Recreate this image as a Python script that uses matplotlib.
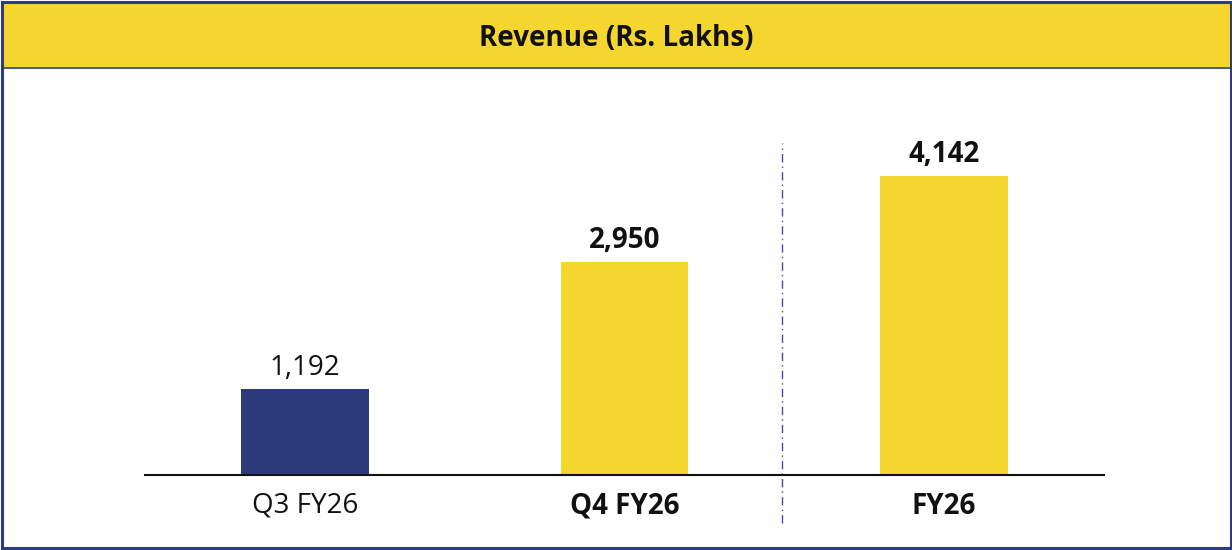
import matplotlib
matplotlib.use("Agg")
import matplotlib.pyplot as plt
from matplotlib.patches import Rectangle

categories = ["Q3 FY26", "Q4 FY26", "FY26"]
revenue = [1192, 2950, 4142]
value_labels = ["1,192", "2,950", "4,142"]
title = "Revenue (Rs. Lakhs)"

NAVY = "#2c3a7c"
YELLOW = "#f5d62f"
BORDER = "#2e3b80"

plt.rcParams["font.family"] = ["Open Sans", "DejaVu Sans"]

W, H = 1232, 550
fig = plt.figure(figsize=(W / 100, H / 100), dpi=100, facecolor="white")

# frame and title band
fig.patches.append(Rectangle((3 / W, 1 - 67 / H), 1 - 5 / W, 64 / H, transform=fig.transFigure,
                             facecolor=YELLOW, edgecolor="none", zorder=1))
fig.add_artist(plt.Line2D([3 / W, 1 - 2 / W], [1 - 67.5 / H] * 2, transform=fig.transFigure,
                          color=BORDER, lw=1.2, zorder=2))
fig.patches.append(Rectangle((1.5 / W, 2 / H), 1 - 3 / W, 1 - 3.5 / H, transform=fig.transFigure,
                             facecolor="none", edgecolor=BORDER, lw=2.2, zorder=3))
fig.text(0.5, 1 - 38.5 / H, title, ha="center", va="center", fontsize=20,
         fontweight="bold", color="#111111")

# bar chart area
ax = fig.add_axes([145 / W, 75 / H, 959 / W, 375 / H], zorder=5)
ax.set_xlim(-0.5, 2.5)
ax.set_ylim(0, 5200)
ax.patch.set_alpha(0)
for s in ["top", "right", "left"]:
    ax.spines[s].set_visible(False)
ax.spines["bottom"].set_color("#111111")
ax.spines["bottom"].set_linewidth(1.5)
ax.set_yticks([])
ax.set_xticks(range(len(categories)))
ax.tick_params(axis="x", length=0, pad=12)
ax.set_xticklabels(categories, fontsize=20, color="#111111")
for i, lab in enumerate(ax.get_xticklabels()):
    if i > 0:
        lab.set_fontweight("bold")

colors = [NAVY, YELLOW, YELLOW]
x = list(range(len(categories)))
ax.bar(x, revenue, width=0.4, color=colors, zorder=2)
for i, (v, t) in enumerate(zip(revenue, value_labels)):
    ax.annotate(t, (i, v), xytext=(0, 5), textcoords="offset points",
                ha="center", va="bottom", fontsize=20, color="#111111",
                fontweight="normal" if i == 0 else "bold")

# separator between quarterly and annual figures
sep_x = (782 - 145) / 959 * 3 - 0.5
ax.plot([sep_x, sep_x], [-670, 4600], color="#3a4fa8", lw=1.0,
        linestyle=(0, (6, 3, 1, 3)), clip_on=False, zorder=1)

fig.savefig("out.png", dpi=100)
